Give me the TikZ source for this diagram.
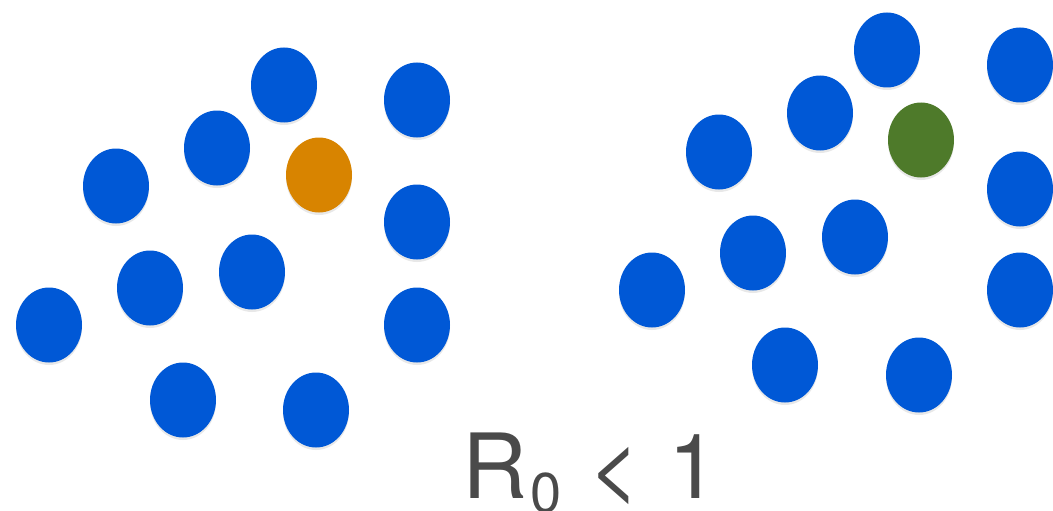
\documentclass[tikz,border=0pt]{standalone}
\usepackage{fontspec}
\setmainfont{TeX Gyre Heros}
\usetikzlibrary{shapes.geometric, shadows}

\definecolor{dotblue}{RGB}{0,88,214}
\definecolor{caseorange}{RGB}{216,132,0}
\definecolor{casegreen}{RGB}{78,122,42}
\definecolor{labelgray}{RGB}{74,74,74}

\begin{document}
\begin{tikzpicture}[
    x=1pt, y=-1pt,
    % Dot styles
    dot/.style={ellipse, inner sep=0pt, minimum width=66pt, minimum height=75pt,
        fill=dotblue, drop shadow={opacity=0.18, shadow xshift=0pt, shadow yshift=-2.5pt}},
    casedot/.style={dot, fill=#1},
    bigtext/.style={font=\fontsize{90}{90}\selectfont, text=labelgray, inner sep=0pt},
]
\useasboundingbox (0,0) rectangle (1053,511);

% ============ Left group ============
\foreach \x/\y [count=\i] in {284/85, 417/100, 217/148, 116/186, 417/222, 252/272,
    150/288, 49/325, 417/325, 183/400, 316/410}
    \node[dot] (left\i) at (\x,\y) {};
\node[casedot=caseorange] (leftcase) at (319,175) {};

% ============ Right group ============
\foreach \x/\y [count=\i] in {887/50, 1020/65, 820/113, 719/152, 1020/189, 855/237,
    753/253, 652/290, 1020/290, 785/365, 919/375}
    \node[dot] (right\i) at (\x,\y) {};
\node[casedot=casegreen] (rightcase) at (921,140) {};

% ============ Label ============
\node[bigtext, anchor=base west] (ratio) at (462,498)
    {R\hspace{3pt}\raisebox{-14pt}{\fontsize{56}{56}\selectfont 0}\hspace{2pt} <\hspace{3pt} 1};

\end{tikzpicture}
\end{document}
